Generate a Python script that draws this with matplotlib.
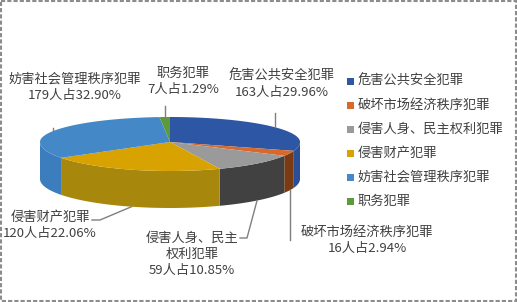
import numpy as np
import matplotlib.pyplot as plt
from matplotlib.patches import Polygon, Rectangle

plt.rcParams['font.family'] = ['Noto Sans CJK SC', 'DejaVu Sans']

# data
categories = ['危害公共安全犯罪', '破坏市场经济秩序犯罪', '侵害人身、民主权利犯罪',
              '侵害财产犯罪', '妨害社会管理秩序犯罪', '职务犯罪']
counts = [163, 16, 59, 120, 179, 7]
percents = [29.96, 2.94, 10.85, 22.06, 32.90, 1.29]
label_names = ['危害公共安全犯罪', '破坏市场经济秩序犯罪', '侵害人身、民主\n权利犯罪',
               '侵害财产犯罪', '妨害社会管理秩序犯罪', '职务犯罪']

top_colors = ['#2D57A4', '#D9692A', '#9A9A9A', '#D8A300', '#4488C8', '#5C9A3A']
side_colors = ['#2A4F95', '#7A3A12', '#414141', '#A8880C', '#3C7DBE', '#4C8030']

# pie geometry in pixels
cx, cy, a = 170, 142, 130
b_back, b_front = 25, 29
depth = 37

# label layout: text centre, leader path after the anchor
label_pos = [(282, 84), (367, 240), (192, 254), (50, 225), (75, 87), (183, 81)]
leader_mid = [None, None, (247, 238), (100, 220), None, None]
leader_end = [(None, 113), (None, 240), (240, 238), (92, 220), (None, 128), (None, 106)]

W, H = 517, 302
fig = plt.figure(figsize=(W / 100, H / 100), dpi=100)
ax = fig.add_axes([0, 0, 1, 1])
ax.set_xlim(0, W)
ax.set_ylim(H, 0)
ax.axis('off')

# dotted background
pts = []
for j, yy in enumerate(np.arange(4, H, 4)):
    off = 0 if j % 2 == 0 else 4
    for xx in np.arange(4 + off, W, 8):
        pts.append((xx, yy))
pts = np.array(pts)
ax.scatter(pts[:, 0], pts[:, 1], s=0.5, marker='s', color='#C4C4C4', lw=0, zorder=0)
ax.add_patch(Rectangle((1, 1), W - 2, H - 2, fill=False, ec='#8C8C8C', lw=1.5,
                       ls=(0, (2, 1)), zorder=10))


def ell(theta):
    t = np.radians(theta)
    b = np.where(np.cos(t) > 0, b_back, b_front)
    return cx + a * np.sin(t), cy - b * np.cos(t)


fracs = np.array(percents) / sum(percents)
bounds = np.concatenate([[0], np.cumsum(fracs) * 360])

# side walls (front half only)
for i in range(len(counts)):
    t0, t1 = max(bounds[i], 90), min(bounds[i + 1], 270)
    if t1 <= t0:
        continue
    th = np.linspace(t0, t1, 80)
    x, y = ell(th)
    xs = np.concatenate([x, x[::-1]])
    ys = np.concatenate([y, (y + depth)[::-1]])
    ax.add_patch(Polygon(np.column_stack([xs, ys]), closed=True, fc=side_colors[i],
                         ec='none', zorder=2))

# top faces
for i in range(len(counts)):
    th = np.linspace(bounds[i], bounds[i + 1], 120)
    x, y = ell(th)
    xs = np.concatenate([[cx], x])
    ys = np.concatenate([[cy], y])
    ax.add_patch(Polygon(np.column_stack([xs, ys]), closed=True, fc=top_colors[i],
                         ec='none', zorder=3))

# data labels with leader lines
tc = '#404040'
for i in range(len(counts)):
    mid = (bounds[i] + bounds[i + 1]) / 2
    x0, y0 = ell(mid)
    x0, y0 = float(x0), float(y0)
    if 90 < mid < 270:
        y0 += depth
    path = [(x0, y0)]
    if leader_mid[i] is not None:
        path.append(leader_mid[i])
    ex, ey = leader_end[i]
    path.append((x0 if ex is None else ex, ey))
    path = np.array(path)
    ax.plot(path[:, 0], path[:, 1], color='#7F7F7F', lw=1, zorder=4)
    txt = f'{label_names[i]}\n{counts[i]}人占{percents[i]:.2f}%'
    ax.text(label_pos[i][0], label_pos[i][1], txt, ha='center', va='center',
            fontsize=9.5, color=tc, linespacing=1.3, zorder=5)

# legend
for i, name in enumerate(categories):
    ly = 81 + 24 * i
    ax.add_patch(Rectangle((347, ly - 3.5), 7, 7, fc=top_colors[i], ec='none', zorder=5))
    ax.text(358, ly, name, ha='left', va='center', fontsize=9.5, color=tc, zorder=5)

fig.savefig('out.png', dpi=100)
